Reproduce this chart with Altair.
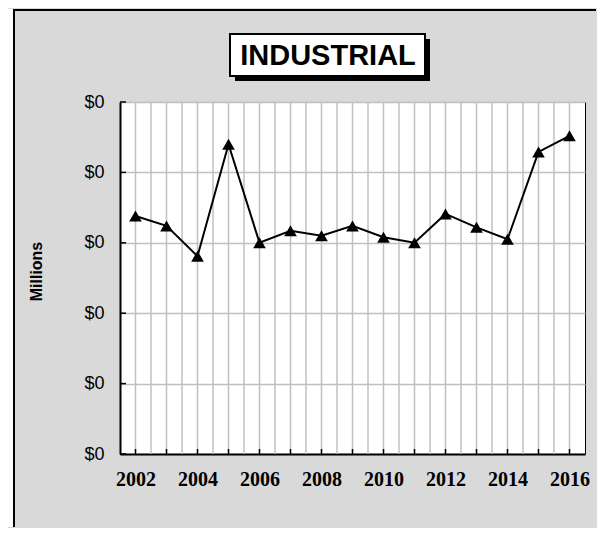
import altair as alt
import pandas as pd

# ---- data (millions of dollars; every gridline is $0.05M) ----
years = [2002, 2003, 2004, 2005, 2006, 2007, 2008, 2009, 2010, 2011, 2012, 2013, 2014, 2015, 2016]
values = [0.169, 0.162, 0.1405, 0.220, 0.150, 0.1585, 0.155, 0.162, 0.154, 0.150, 0.1705, 0.161, 0.1525, 0.2145, 0.226]
grid_years = [2002, 2002.5, 2003, 2003.5, 2004, 2004.5, 2005, 2005.5, 2006, 2006.5,
              2007, 2007.5, 2008, 2008.5, 2009, 2009.5, 2010, 2010.5, 2011, 2011.5,
              2012, 2012.5, 2013, 2013.5, 2014, 2014.5, 2015, 2015.5, 2016]
label_years = [2002, 2004, 2006, 2008, 2010, 2012, 2014, 2016]
y_ticks = [0.0, 0.05, 0.10, 0.15, 0.20, 0.25]
title_text = "INDUSTRIAL"
y_title = "Millions"

W, H = 465, 352
GRID = "#c0c0c0"
BG = "#d9d9d9"

df = pd.DataFrame({"year": years, "value": values})
xtick_df = pd.DataFrame({"year": years})
xgrid_df = pd.DataFrame({"year": grid_years})
ytick_df = pd.DataFrame({"value": y_ticks})
one = pd.DataFrame({"k": [0]})

xscale = alt.Scale(domain=[2001.5, 2016.5], nice=False, zero=False)
yscale = alt.Scale(domain=[0, 0.25], nice=False, zero=True)

xaxis = alt.Axis(
    values=label_years, format="d",
    grid=False, ticks=False, domainColor="black", domainWidth=2,
    labelFont="Liberation Serif", labelFontWeight="bold", labelFontSize=20,
    labelColor="black", labelPadding=15, labelFlush=False, labelOverlap=False,
    title=None,
)
yaxis = alt.Axis(
    values=y_ticks, format="$,.0f",
    grid=True, gridColor=GRID, gridWidth=1.5,
    ticks=False, domainColor="black", domainWidth=2,
    labelFont="Liberation Sans", labelFontSize=18, labelColor="black",
    labelPadding=16, labelFlush=False, labelOverlap=False,
    title=y_title, titleFont="Liberation Sans", titleFontWeight="bold",
    titleFontSize=16, titleColor="black", titleAngle=270,
    titleX=-84, titleY=169, titleBaseline="middle", titleAlign="center",
)

X = alt.X("year:Q", scale=xscale, axis=xaxis)
Y = alt.Y("value:Q", scale=yscale, axis=yaxis)

xgrid = alt.Chart(xgrid_df).mark_rule(color=GRID, strokeWidth=1.5).encode(
    x=X, y=alt.value(0), y2=alt.value(H))
line = alt.Chart(df).mark_line(color="black", strokeWidth=2).encode(x=X, y=Y)
pts = alt.Chart(df).mark_point(shape="triangle-up", filled=True, color="black",
                               opacity=1, size=160).encode(x=X, y=Y)

xticks = alt.Chart(xtick_df).mark_rule(color="black", strokeWidth=1.5).encode(
    x=X, y=alt.value(H), y2=alt.value(H - 5))
yticks = alt.Chart(ytick_df).mark_rule(color="black", strokeWidth=1.5).encode(
    y=Y, x=alt.value(0), x2=alt.value(6))

# frame decorations (outer panel: left and top edges inside the window)
strip = alt.Chart(one).mark_rect(color="white").encode(
    x=alt.value(-112), x2=alt.value(-107), y=alt.value(-93), y2=alt.value(425))
left_border = alt.Chart(one).mark_rule(color="black", strokeWidth=2).encode(
    x=alt.value(-106), y=alt.value(-93), y2=alt.value(425))
top_border = alt.Chart(one).mark_rule(color="black", strokeWidth=2).encode(
    y=alt.value(-92), x=alt.value(-107), x2=alt.value(476))

# title box
shadow = alt.Chart(one).mark_rect(color="black").encode(
    x=alt.value(115), x2=alt.value(310), y=alt.value(-63), y2=alt.value(-21))
box = alt.Chart(one).mark_rect(fill="white", stroke="black", strokeWidth=2).encode(
    x=alt.value(110), x2=alt.value(305), y=alt.value(-68), y2=alt.value(-26))
title = alt.Chart(one).mark_text(
    text=title_text, font="Liberation Sans", fontWeight="bold", fontSize=29,
    color="black", align="center", baseline="middle").encode(
    x=alt.value(208), y=alt.value(-46))

chart = alt.layer(
    strip, left_border, top_border, xgrid, line, pts, xticks, yticks, shadow, box, title
).properties(
    width=W, height=H, padding=0, background=BG,
).configure_view(
    fill="white", stroke="black", strokeWidth=1
)

chart.save("out.html", embed_options={"renderer": "svg", "actions": False})
